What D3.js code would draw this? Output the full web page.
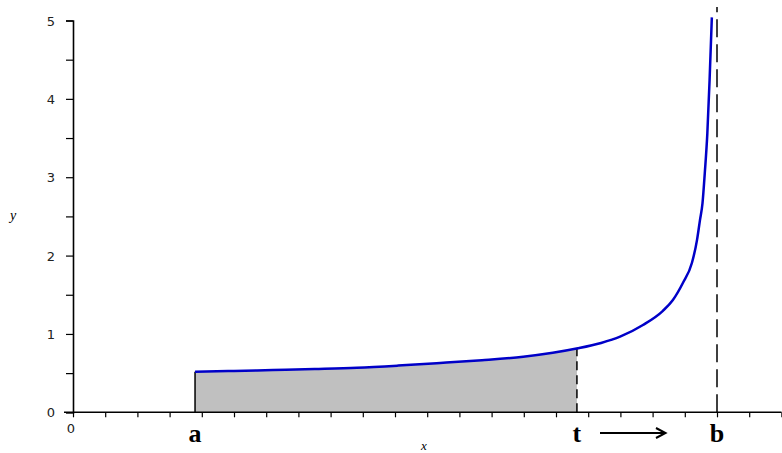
<!DOCTYPE html>
<html><head><meta charset="utf-8">
<script src="https://cdn.jsdelivr.net/npm/d3@7"></script>
<style>body{margin:0;background:#fff}</style>
</head><body>
<svg id="c" width="782" height="453"></svg>
<script>
// curve samples (x in axis-tick units, y values)
const curveX = [3.79, 5.0, 6.21, 7.5, 8.82, 10.1, 11.4, 12.7, 13.98, 14.9, 15.68, 16.4, 16.99, 17.70, 18.32, 18.63, 18.94, 19.22, 19.38, 19.47, 19.55, 19.62, 19.70, 19.77, 19.84];
const curveY = [0.518, 0.528, 0.54, 0.553, 0.569, 0.596, 0.629, 0.665, 0.71, 0.76, 0.817, 0.885, 0.965, 1.114, 1.295, 1.433, 1.65, 1.905, 2.2, 2.45, 2.67, 3.05, 3.56, 4.24, 5.04];
const aPos = 3.79, tPos = 15.65, bPos = 20;
const yTicks = [0, 1, 2, 3, 4, 5];
const yMinor = [0.5, 1.5, 2.5, 3.5, 4.5];
const xTicks = d3.range(0, 23);
const markLabels = [{k: "a", v: aPos}, {k: "t", v: tPos}, {k: "b", v: bPos}];

const svg = d3.select("#c");
const x = d3.scaleLinear().domain([0, 22]).range([73, 781.4]);
const y = d3.scaleLinear().domain([0, 5]).range([412.3, 20.5]);

const pts = curveX.map((v, i) => [v, curveY[i]]);

// shaded area, clipped between a and t
svg.append("clipPath").attr("id", "clip").append("rect")
  .attr("x", x(aPos)).attr("y", 0).attr("width", x(tPos) - x(aPos)).attr("height", y(0));
svg.append("path").datum(pts).attr("clip-path", "url(#clip)")
  .attr("fill", "#c0c0c0")
  .attr("d", d3.area().x(d => x(d[0])).y0(y(0)).y1(d => y(d[1])).curve(d3.curveMonotoneX));

// axes
const gx = svg.append("g").attr("transform", `translate(0,${y(0)})`)
  .call(d3.axisBottom(x).tickValues(xTicks).tickSize(5).tickFormat(""));
const gy = svg.append("g").attr("transform", `translate(${x(0)},0)`)
  .call(d3.axisLeft(y).tickValues(yTicks.concat(yMinor)).tickSize(7).tickFormat(""));
[gx, gy].forEach(g => {
  g.select(".domain").attr("stroke", "#000").attr("stroke-width", 1.6);
  g.selectAll(".tick line").attr("stroke", "#000").attr("stroke-width", 1.2);
});
gx.select(".domain").attr("d", `M${x(0) - 9},0H781.5`);

// y tick labels
svg.selectAll(".ylab").data(yTicks).join("text")
  .attr("x", 55).attr("y", d => y(d) + 5).attr("text-anchor", "end")
  .attr("font-family", "DejaVu Sans, Verdana, sans-serif").attr("font-size", 13).attr("fill", "#222")
  .text(d => d);
svg.append("text").attr("x", x(0) - 2).attr("y", 433).attr("text-anchor", "middle")
  .attr("font-family", "DejaVu Sans, Verdana, sans-serif").attr("font-size", 13).attr("fill", "#222").text("0");

// axis titles
svg.append("text").attr("x", 424).attr("y", 450).attr("text-anchor", "middle")
  .attr("font-family", "Liberation Serif, serif").attr("font-style", "italic").attr("font-size", 13).text("x");
svg.append("text").attr("x", 13).attr("y", 220).attr("text-anchor", "middle")
  .attr("font-family", "Liberation Serif, serif").attr("font-style", "italic").attr("font-size", 14).text("y");

// vertical line at a
svg.append("line").attr("x1", x(aPos)).attr("x2", x(aPos)).attr("y1", y(0)).attr("y2", y(curveY[0]))
  .attr("stroke", "#000").attr("stroke-width", 1.5);
// dashed line at t
const interp = d3.scaleLinear().domain(curveX).range(curveY);
svg.append("line").attr("x1", x(tPos)).attr("x2", x(tPos)).attr("y1", y(0)).attr("y2", y(interp(tPos)))
  .attr("stroke", "#000").attr("stroke-width", 1.5).attr("stroke-dasharray", "9,5");
// asymptote at b
svg.append("line").attr("x1", x(bPos)).attr("x2", x(bPos)).attr("y1", y(0)).attr("y2", 7)
  .attr("stroke", "#000").attr("stroke-width", 1.5).attr("stroke-dasharray", "18,7");

// curve
svg.append("path").datum(pts).attr("fill", "none").attr("stroke", "#0000c8").attr("stroke-width", 2.5)
  .attr("d", d3.line().x(d => x(d[0])).y(d => y(d[1])).curve(d3.curveMonotoneX));

// letter labels
svg.selectAll(".ml").data(markLabels).join("text")
  .attr("x", d => x(d.v)).attr("y", 442).attr("text-anchor", "middle")
  .attr("font-family", "Liberation Serif, Times New Roman, serif").attr("font-weight", "bold").attr("font-size", 26)
  .text(d => d.k);

// arrow
svg.append("line").attr("x1", 600).attr("x2", 665).attr("y1", 433).attr("y2", 433).attr("stroke", "#000").attr("stroke-width", 2);
svg.append("path").attr("d", "M656,428L665.5,433L656,438").attr("fill", "none").attr("stroke", "#000").attr("stroke-width", 2);
</script>
</body></html>
